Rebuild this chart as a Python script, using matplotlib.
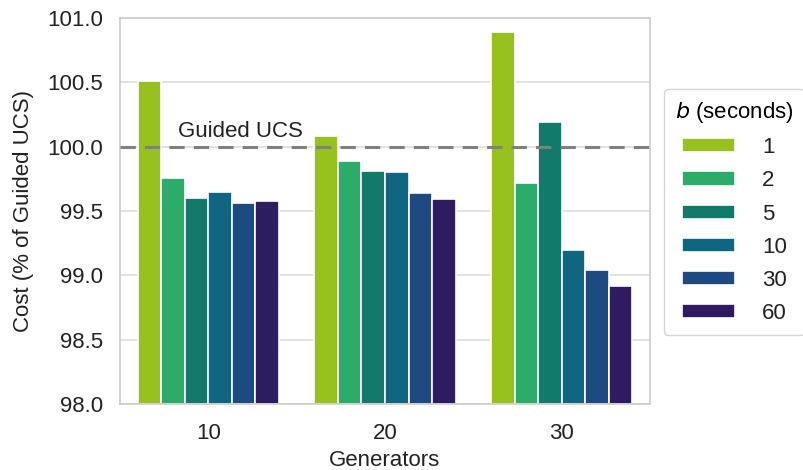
import numpy as np
import matplotlib.pyplot as plt

plt.rcParams['font.family'] = ['Liberation Sans', 'DejaVu Sans']

generators = ['10', '20', '30']
b_labels = ['1', '2', '5', '10', '30', '60']
# cost (% of guided UCS) per b, for generators 10, 20, 30
cost = {
    '1':  [100.51, 100.08, 100.89],
    '2':  [99.76, 99.89, 99.72],
    '5':  [99.60, 99.81, 100.19],
    '10': [99.65, 99.80, 99.20],
    '30': [99.56, 99.64, 99.04],
    '60': [99.58, 99.59, 98.92],
}
colors = ['#97c11f', '#2bac68', '#117a6b', '#0f6680', '#1d4a80', '#2e1b60']

fig = plt.figure(figsize=(8.04, 4.70), dpi=100)
ax = fig.add_axes([120/804, 1-404/470, 530/804, 386/470])

x = np.arange(len(generators))
w = 0.8 / len(b_labels)
for i, b in enumerate(b_labels):
    ax.bar(x - 0.4 + w*(i + 0.5), np.array(cost[b]) - 98.0, w, bottom=98.0,
           color=colors[i], edgecolor='white', linewidth=1.2, label=b, zorder=2)

ax.axhline(100.0, color='#808080', linestyle='--', linewidth=2.2, dashes=(5, 3), zorder=3)
ax.text(-0.17, 100.04, 'Guided UCS', fontsize=16, color='#222222', va='bottom', zorder=4)

ax.set_xlim(-0.5, 2.5)
ax.set_ylim(98.0, 101.0)
ax.set_yticks(np.arange(98.0, 101.01, 0.5))
ax.set_yticklabels([f'{v:.1f}' for v in np.arange(98.0, 101.01, 0.5)])
ax.set_xticks(x)
ax.set_xticklabels(generators)
ax.tick_params(labelsize=16, length=0, colors='#222222')
ax.tick_params(axis='x', pad=14)
ax.tick_params(axis='y', pad=12)
ax.grid(axis='y', color='#dddddd', linewidth=1.2, zorder=0)
ax.set_axisbelow(True)
for s in ax.spines.values():
    s.set_color('#cccccc')
    s.set_linewidth(1.2)

ax.set_xlabel('Generators', fontsize=16, color='#222222', labelpad=4)
ax.set_ylabel('Cost (% of Guided UCS)', fontsize=16, color='#222222', labelpad=10)

leg = ax.legend(title='$b$ (seconds)', loc='center left', bbox_to_anchor=(664/804, 1-212/470),
                bbox_transform=fig.transFigure, fontsize=16, title_fontsize=16,
                frameon=True, handlelength=2.4, handleheight=0.6, labelspacing=0.55,
                handletextpad=1.2, borderpad=0.5, borderaxespad=0)
leg.get_frame().set_edgecolor('#cccccc')
for t in leg.get_texts():
    t.set_color('#222222')

fig.savefig('out.png', dpi=100)
